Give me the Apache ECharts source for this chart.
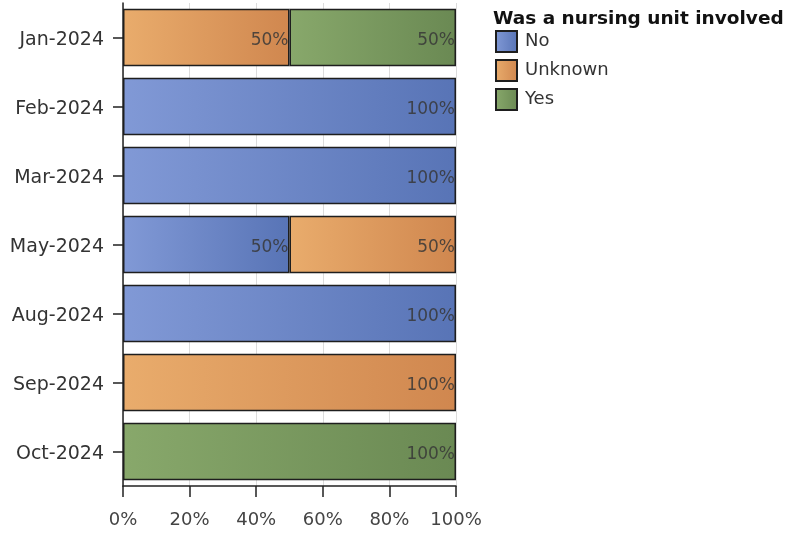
<!DOCTYPE html>
<html>
<head>
<meta charset="utf-8">
<style>
  html, body { margin: 0; padding: 0; background: #fff; }
  #chart { width: 789px; height: 533px; }
</style>
<script src="https://cdn.jsdelivr.net/npm/echarts@6/dist/echarts.min.js"></script>
</head>
<body>
<div id="chart"></div>
<script>
// Months reported, top to bottom
const months = ['Jan-2024', 'Feb-2024', 'Mar-2024', 'May-2024', 'Aug-2024', 'Sep-2024', 'Oct-2024'];

// Share of incidents (%) per answer for each month
const noValues      = [0, 100, 100, 50, 100, 0, 0];
const unknownValues = [50, 0, 0, 50, 0, 100, 0];
const yesValues     = [50, 0, 0, 0, 0, 0, 100];

const xTicks = [0, 20, 40, 60, 80, 100];
const legendTitle = 'Was a nursing unit involved';

const FONT = '"DejaVu Sans", "Liberation Sans", Arial, sans-serif';

function grad(light, dark) {
  return new echarts.graphic.LinearGradient(0, 0, 1, 0, [
    { offset: 0, color: light },
    { offset: 1, color: dark }
  ]);
}

function makeSeries(name, values, light, dark) {
  return {
    name: name,
    type: 'bar',
    stack: 'total',
    barWidth: '83%',
    // empty segments are left out so no zero-width outline is drawn
    data: values.map(v => (v > 0 ? v : '-')),
    itemStyle: {
      color: grad(light, dark),
      borderColor: '#1e1e1e',
      borderWidth: 1.5
    },
    label: {
      show: true,
      position: 'insideRight',
      distance: 1,
      offset: [0, 3],
      color: 'rgba(55,55,55,0.85)',
      fontFamily: FONT,
      fontSize: 17,
      formatter: p => p.value + '%'
    },
    emphasis: { disabled: true }
  };
}

const chart = echarts.init(document.getElementById('chart'));
chart.setOption({
  animation: false,
  title: {
    text: legendTitle,
    left: 488,
    top: 5,
    textStyle: { fontFamily: FONT, fontWeight: 'bold', fontSize: 18.5, color: '#111' }
  },
  legend: {
    orient: 'vertical',
    left: 495,
    top: 30,
    padding: 0,
    itemWidth: 21,
    itemHeight: 21,
    itemGap: 6,
    icon: 'rect',
    textStyle: { fontFamily: FONT, fontSize: 18, color: '#333', padding: [0, 0, 0, 3] },
    data: ['No', 'Unknown', 'Yes']
  },
  grid: { left: 123, right: 333, top: 3, bottom: 47 },
  xAxis: {
    type: 'value',
    min: xTicks[0],
    max: xTicks[xTicks.length - 1],
    interval: 20,
    axisLine: { show: true, lineStyle: { color: '#222', width: 1.5 } },
    axisTick: { show: true, length: 11, lineStyle: { color: '#222', width: 1.5 } },
    axisLabel: {
      fontFamily: FONT, fontSize: 18, color: '#444', margin: 25,
      formatter: v => v + '%'
    },
    splitLine: { show: true, lineStyle: { color: '#dcdcdc', width: 1 } }
  },
  yAxis: {
    type: 'category',
    data: months,
    inverse: true,
    axisLine: { show: true, lineStyle: { color: '#222', width: 1.5 } },
    axisTick: { show: true, length: 10, alignWithLabel: true, lineStyle: { color: '#222', width: 1.5 } },
    axisLabel: {
      fontFamily: FONT, fontSize: 19, color: '#333', margin: 19,
      verticalAlign: 'top', lineHeight: 6
    }
  },
  series: [
    makeSeries('No', noValues, '#8199d6', '#5874b6'),
    makeSeries('Unknown', unknownValues, '#e9ac6c', '#d0874f'),
    makeSeries('Yes', yesValues, '#88a86b', '#6a8953')
  ]
});
</script>
</body>
</html>
